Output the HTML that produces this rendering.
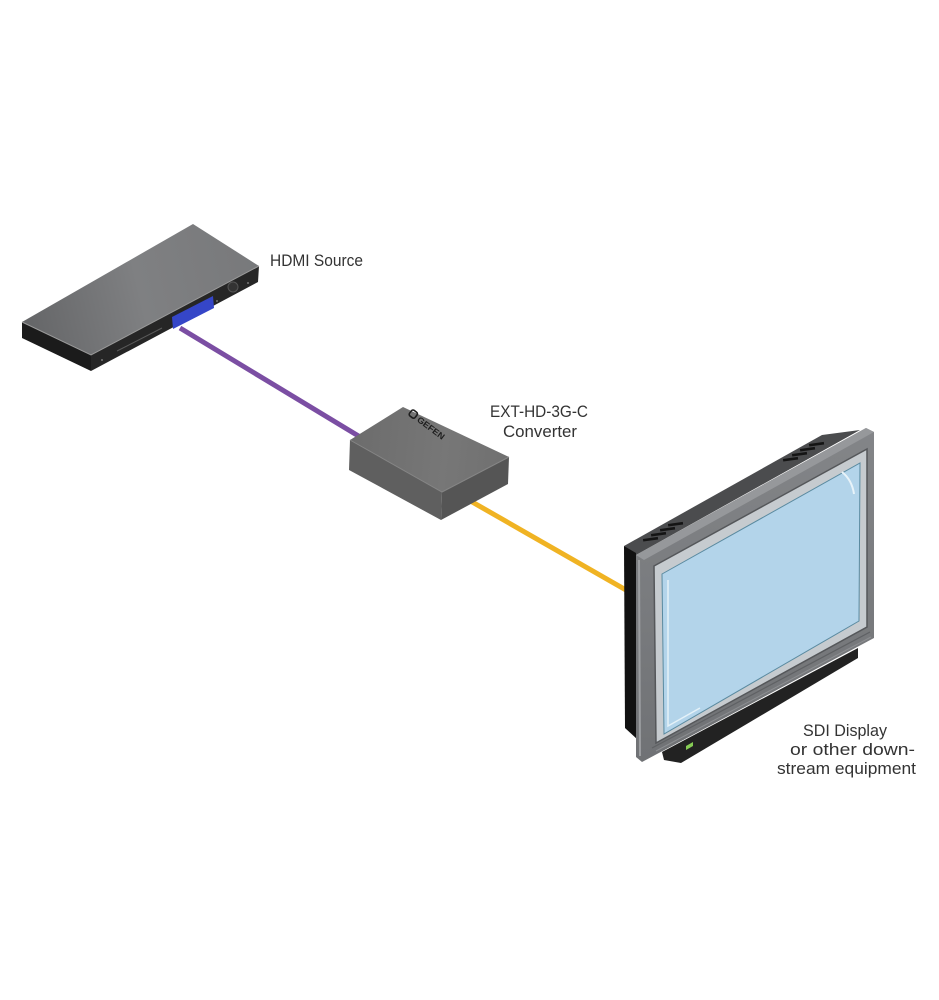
<!DOCTYPE html>
<html>
<head>
<meta charset="utf-8">
<style>
html,body{margin:0;padding:0;background:#fff;}
svg{display:block;}
text{font-family:"Liberation Sans",sans-serif;fill:#333;}
</style>
</head>
<body>
<svg width="939" height="1000" viewBox="0 0 939 1000" xmlns="http://www.w3.org/2000/svg">
<defs>
<linearGradient id="gs" x1="22" y1="322" x2="259" y2="266" gradientUnits="userSpaceOnUse">
<stop offset="0" stop-color="#646567"/>
<stop offset="0.5" stop-color="#7f8082"/>
<stop offset="1" stop-color="#78797b"/>
</linearGradient>
<linearGradient id="gc" x1="350" y1="440" x2="509" y2="457" gradientUnits="userSpaceOnUse">
<stop offset="0" stop-color="#6c6c6c"/>
<stop offset="0.6" stop-color="#777777"/>
<stop offset="1" stop-color="#707070"/>
</linearGradient>
<linearGradient id="gb" x1="0" y1="430" x2="0" y2="762" gradientUnits="userSpaceOnUse">
<stop offset="0" stop-color="#838588"/>
<stop offset="1" stop-color="#707275"/>
</linearGradient>
</defs>
<rect width="939" height="1000" fill="#ffffff"/>

<!-- cables -->
<line x1="180" y1="328" x2="380" y2="449" stroke="#7b4ea3" stroke-width="5"/>
<line x1="460" y1="495" x2="640" y2="598" stroke="#f0b323" stroke-width="5"/>

<!-- HDMI source box -->
<polygon points="22,322 193,224 259,266 91,355" fill="url(#gs)"/>
<polygon points="22,322 91,355 91,371 22,338" fill="#1b1b1b"/>
<polygon points="91,355 259,266 258,282 91,371" fill="#262626"/>
<polyline points="22,322 91,355 259,266" fill="none" stroke="#9a9a9a" stroke-width="1"/>
<polygon points="172,317 213,296 214,308 173,329" fill="#3546c8"/>
<line x1="117" y1="351" x2="162" y2="328" stroke="#5a5a5a" stroke-width="1"/>
<circle cx="233" cy="287" r="5" fill="#333" stroke="#555" stroke-width="1"/>
<circle cx="102" cy="360" r="1" fill="#777"/>
<circle cx="217" cy="301" r="1" fill="#777"/>
<circle cx="248" cy="283" r="1" fill="#777"/>

<!-- Converter box -->
<polygon points="350,440 403,407 509,457 442,492" fill="url(#gc)"/>
<polygon points="350,440 442,492 441,520 349,470" fill="#5f5f5f"/>
<polygon points="442,492 509,457 508,484 441,520" fill="#555555"/>
<polyline points="350,440 442,492 509,457" fill="none" stroke="#858585" stroke-width="1"/>
<g transform="translate(409,414) rotate(37)">
<rect x="0" y="-6" width="7" height="7" rx="2" fill="none" stroke="#1e1e1e" stroke-width="1.6"/>
<text x="10" y="1" font-size="8.5" font-weight="bold" style="fill:#1e1e1e" textLength="32" lengthAdjust="spacingAndGlyphs">GEFEN</text>
</g>

<!-- TV -->
<polygon points="624,546 822,435 860,430 636,555" fill="#4b4c4e"/>
<polygon points="624,546 636,553 638,740 625,728" fill="#111111"/>
<g fill="#141414">
<rect x="643" y="538" width="15" height="2.6" transform="rotate(-8 650 539)"/>
<rect x="651" y="533" width="15" height="2.6" transform="rotate(-8 658 534)"/>
<rect x="660" y="528" width="15" height="2.6" transform="rotate(-8 667 529)"/>
<rect x="668" y="523" width="15" height="2.6" transform="rotate(-8 675 524)"/>
<rect x="783" y="458" width="15" height="2.6" transform="rotate(-8 790 459)"/>
<rect x="792" y="453" width="15" height="2.6" transform="rotate(-8 799 454)"/>
<rect x="800" y="448" width="15" height="2.6" transform="rotate(-8 807 449)"/>
<rect x="809" y="443" width="15" height="2.6" transform="rotate(-8 816 444)"/>
</g>
<!-- stand -->
<polygon points="662,752 858,648 858,658 681,763 664,760" fill="#222222"/>
<!-- bezel -->
<polygon points="636,555 866,428 874,432 874,638 642,762 636,757" fill="url(#gb)"/>
<polygon points="636,555 866,428 874,432 644,560" fill="#96989b"/>
<line x1="639" y1="560" x2="640" y2="756" stroke="#9c9ea1" stroke-width="2"/>
<line x1="652" y1="748" x2="870" y2="632" stroke="#5f6164" stroke-width="1.2"/>
<line x1="656" y1="751" x2="871" y2="637" stroke="#8c8e91" stroke-width="1"/>
<!-- inner frame -->
<polygon points="654,566 867,449 867,627 656,743" fill="#c6cbcf" stroke="#55575a" stroke-width="1.5"/>
<!-- screen -->
<polygon points="662,574 860,463 859,621 664,734" fill="#b3d4ea" stroke="#5a8aa0" stroke-width="1"/>
<polyline points="668,580 668,726 700,708" fill="none" stroke="#e4f1f8" stroke-width="1.5"/>
<path d="M842,472 Q852,480 854,494" fill="none" stroke="#e8f3f9" stroke-width="2"/>
<polygon points="686,746 693,742 693,746 686,750" fill="#86cc55"/>

<!-- labels -->
<text x="270" y="266" font-size="16.5" textLength="93" lengthAdjust="spacingAndGlyphs">HDMI Source</text>
<text x="490" y="417" font-size="16.5" textLength="98" lengthAdjust="spacingAndGlyphs">EXT-HD-3G-C</text>
<text x="503" y="437" font-size="16.5" textLength="74" lengthAdjust="spacingAndGlyphs">Converter</text>
<text x="803" y="736" font-size="16.5" textLength="84" lengthAdjust="spacingAndGlyphs">SDI Display</text>
<text x="790" y="755" font-size="16.5" textLength="125" lengthAdjust="spacingAndGlyphs">or other down-</text>
<text x="777" y="774" font-size="16.5" textLength="139" lengthAdjust="spacingAndGlyphs">stream equipment</text>
</svg>
</body>
</html>
